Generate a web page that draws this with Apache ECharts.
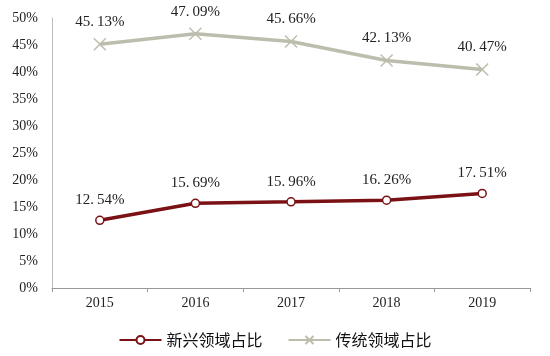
<!DOCTYPE html>
<html><head><meta charset="utf-8">
<script src="https://cdn.jsdelivr.net/npm/echarts@6/dist/echarts.min.js"></script>
<style>html,body{margin:0;padding:0;background:#fff}#c{width:550px;height:356px}</style>
</head><body><div id="c"></div>
<script>
const categories = ['2015','2016','2017','2018','2019'];
const newField = [12.54, 15.69, 15.96, 16.26, 17.51];
const oldField = [45.13, 47.09, 45.66, 42.13, 40.47];
const seriesNames = ['新兴领域占比','传统领域占比'];

const serif = 'Liberation Serif';
const chart = echarts.init(document.getElementById('c'));
const lbl = (d) => ({show:true, position:'top', distance:d, fontFamily:serif, fontSize:15, color:'#222',
  formatter: p => p.value.toFixed(2).replace('.', '.\u2009') + '%'});
chart.setOption({
  animation:false,
  grid:{left:52, right:20, top:18, bottom:68},
  legend:{bottom:3, itemGap:25, itemWidth:42, itemHeight:10,
    textStyle:{fontFamily:'Noto Sans CJK SC', fontSize:16, color:'#111'},
    data:seriesNames},
  xAxis:{type:'category', data:categories, boundaryGap:true,
    axisLine:{lineStyle:{color:'#999'}},
    axisTick:{show:true, length:4, lineStyle:{color:'#999'}},
    axisLabel:{fontFamily:serif, fontSize:14, color:'#222', margin:8}},
  yAxis:{type:'value', min:0, max:50, interval:5,
    axisLine:{show:true, lineStyle:{color:'#bbb'}},
    axisTick:{show:false}, splitLine:{show:false},
    axisLabel:{fontFamily:serif, fontSize:14, color:'#222', margin:14, formatter:'{value}%'}},
  series:[
    {name:seriesNames[0], type:'line', data:newField, symbol:'circle', symbolSize:8,
      lineStyle:{color:'#7a1215', width:3.5},
      itemStyle:{color:'#fff', borderColor:'#7a1215', borderWidth:1.5},
      label:lbl(8)},
    {name:seriesNames[1], type:'line', data:oldField,
      symbol:'path://M0,0L10,10M10,0L0,10', symbolSize:12,
      lineStyle:{color:'#bdbdad', width:3.5},
      itemStyle:{color:'none', borderColor:'#bdbdad', borderWidth:1.5},
      label:lbl(6)}
  ]
});
</script></body></html>
